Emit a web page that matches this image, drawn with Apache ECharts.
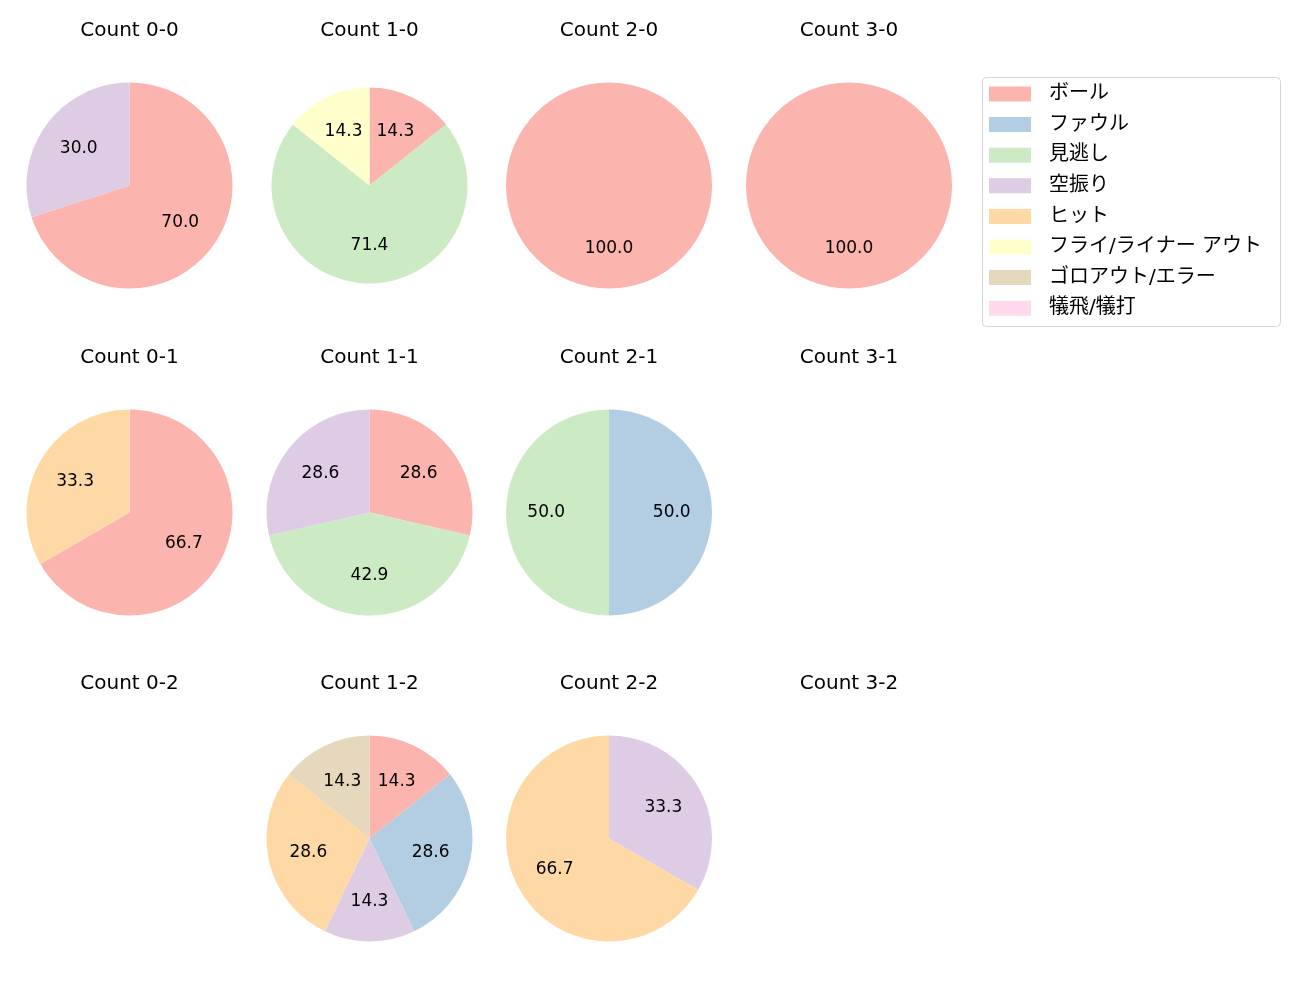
<!DOCTYPE html>
<html><head><meta charset="utf-8">
<script src="https://cdn.jsdelivr.net/npm/echarts@6/dist/echarts.min.js"></script>
</head><body style="margin:0;background:#fff">
<div id="c" style="width:1300px;height:1000px"></div>
<script>
const categories = ['ボール','ファウル','見逃し','空振り','ヒット','フライ/ライナー アウト','ゴロアウト/エラー','犠飛/犠打'];
const palette = ['#fbb4ae','#b3cde3','#ccebc5','#decbe4','#fed9a6','#ffffcc','#e5d8bd','#fddaec'];
// values per category (same order as categories)
const count00 = [7,0,0,3,0,0,0,0];
const count10 = [1,0,5,0,0,1,0,0];
const count20 = [1,0,0,0,0,0,0,0];
const count30 = [1,0,0,0,0,0,0,0];
const count01 = [2,0,0,0,1,0,0,0];
const count11 = [2,0,3,2,0,0,0,0];
const count21 = [0,1,1,0,0,0,0,0];
const count31 = null;
const count02 = null;
const count12 = [1,2,0,1,2,0,1,0];
const count22 = [0,0,0,1,2,0,0,0];
const count32 = null;

const panels = [
  {title:'Count 0-0', vals:count00, col:0, row:0},
  {title:'Count 1-0', vals:count10, col:1, row:0, r:98},
  {title:'Count 2-0', vals:count20, col:2, row:0},
  {title:'Count 3-0', vals:count30, col:3, row:0},
  {title:'Count 0-1', vals:count01, col:0, row:1},
  {title:'Count 1-1', vals:count11, col:1, row:1},
  {title:'Count 2-1', vals:count21, col:2, row:1},
  {title:'Count 3-1', vals:count31, col:3, row:1},
  {title:'Count 0-2', vals:count02, col:0, row:2},
  {title:'Count 1-2', vals:count12, col:1, row:2},
  {title:'Count 2-2', vals:count22, col:2, row:2},
  {title:'Count 3-2', vals:count32, col:3, row:2},
];
const colX = [129.5, 369.5, 609, 849];
const rowY = [185.5, 512.5, 838.5];
const titleY = [31, 358, 684];
const LATIN = '"DejaVu Sans", "Noto Sans CJK JP", sans-serif';

const titles = [];
const series = [];
// dummy series so that every category appears in legend
series.push({
  type:'pie', center:[-2000,-2000], radius:1, silent:true, label:{show:false}, labelLine:{show:false},
  data: categories.map((n,i)=>({name:n, value:1, itemStyle:{color:palette[i]}}))
});
panels.forEach(p=>{
  titles.push({text:p.title, left:colX[p.col], top:titleY[p.row], padding:0, textAlign:'center', textVerticalAlign:'middle',
    textStyle:{fontFamily:LATIN, fontSize:20, fontWeight:'normal', color:'#000'}});
  if(!p.vals) return;
  const total = p.vals.reduce((a,b)=>a+b,0);
  const data = [];
  p.vals.forEach((v,i)=>{ if(v>0) data.push({name:categories[i], value:v, itemStyle:{color:palette[i]}}); });
  const r = p.r || 103;
  const c = [colX[p.col], rowY[p.row]];
  series.push({type:'pie', center:c, radius:[0,r], startAngle:90, clockwise:true, silent:true,
    label:{show:false}, labelLine:{show:false}, itemStyle:{borderWidth:0}, data:data, animation:false});
  series.push({type:'pie', center:c, radius:[0,r*1.16], startAngle:90, clockwise:true, silent:true,
    labelLine:{show:false}, itemStyle:{color:'rgba(0,0,0,0)', borderWidth:0},
    label:{show:true, position:'inside', fontFamily:LATIN, fontSize:17, color:'#000',
      formatter:(pr)=> (pr.value/total*100).toFixed(1)},
    data:data.map(d=>({name:d.name, value:d.value})), animation:false});
});

const chart = echarts.init(document.getElementById('c'), null, {renderer:'canvas'});
chart.setOption({
  backgroundColor:'#fff',
  animation:false,
  title:titles,
  legend:{orient:'vertical', left:989, top:84, padding:0, itemWidth:42, itemHeight:15, itemGap:10.6,
    selectedMode:false, icon:'rect', data:categories,
    textStyle:{fontFamily:LATIN, fontSize:20, color:'#000', lineHeight:20, padding:[0,0,0,13]}},
  graphic:[{type:'rect', shape:{x:982.5, y:77.5, width:298, height:249, r:4},
    style:{fill:'#fff', stroke:'#d6d6d6', lineWidth:1}, z:-1}],
  series:series
});
</script></body></html>
